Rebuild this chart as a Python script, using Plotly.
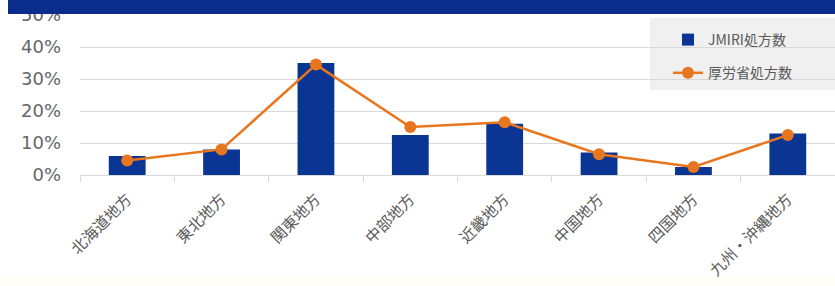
import plotly.graph_objects as go

categories = ["北海道地方", "東北地方", "関東地方", "中部地方", "近畿地方", "中国地方", "四国地方", "九州・沖縄地方"]
jmiri = [0.059, 0.080, 0.350, 0.125, 0.160, 0.070, 0.025, 0.130]
mhlw = [0.045, 0.080, 0.345, 0.150, 0.165, 0.065, 0.025, 0.125]
y_ticks = [0, 0.1, 0.2, 0.3, 0.4, 0.5]
y_tick_labels = ["0%", "10%", "20%", "30%", "40%", "50%"]

FONT = "Noto Sans CJK JP, Noto Sans, sans-serif"

W, H = 835, 286
L, R, T, B = 80, 0, 15, 111
PW, PH = W - L - R, H - T - B


def px(x):
    return (x - L) / PW


def py(y):
    return (H - B - y) / PH


fig = go.Figure()
fig.add_trace(go.Bar(x=categories, y=jmiri, name="JMIRI処方数", legendgroup="a",
                     marker=dict(color="#0a3592", line=dict(width=0))))
fig.add_trace(go.Scatter(x=categories, y=mhlw, name="厚労省処方数", mode="lines+markers",
                         legendgroup="b",
                         line=dict(color="#e8761e", width=2.5),
                         marker=dict(color="#e8761e", size=12)))

fig.update_layout(
    width=W, height=H,
    margin=dict(l=L, r=R, t=T, b=B),
    paper_bgcolor="white", plot_bgcolor="white",
    font=dict(family=FONT, color="#595959"),
    bargap=0.61,
    showlegend=True,
    legend=dict(x=px(668), y=py(24), xanchor="left", yanchor="top",
                bgcolor="rgba(0,0,0,0)", font=dict(size=14, color="#595959"),
                itemwidth=30, tracegroupgap=12, traceorder="grouped"),
    xaxis=dict(range=[-0.5, 7.5], tickangle=-45, automargin=False,
               tickfont=dict(size=15.5, color="#5a5a5a", family=FONT),
               showgrid=False, showline=True, linecolor="#d9d9d9", linewidth=1,
               ticks="outside", tickson="boundaries", ticklen=6, tickcolor="#d9d9d9",
               ticklabelstandoff=8),
    yaxis=dict(range=[0, 0.5], tickvals=y_ticks, ticktext=y_tick_labels, automargin=False,
               tickfont=dict(size=18, color="#666666", family="DejaVu Sans"), showgrid=True,
               gridcolor="#d9d9d9", gridwidth=1, zeroline=False, showline=False,
               ticks="", ticklabelstandoff=18),
    shapes=[
        dict(type="rect", xref="paper", yref="paper", x0=px(650), x1=px(835),
             y0=py(90), y1=py(18), fillcolor="#f0f0f0", line=dict(width=0), layer="below"),
        dict(type="rect", xref="paper", yref="paper", x0=px(0), x1=px(835),
             y0=py(286), y1=py(277), fillcolor="#fffef7", line=dict(width=0), layer="below"),
        dict(type="rect", xref="paper", yref="paper", x0=px(8), x1=px(835),
             y0=py(14), y1=py(0), fillcolor="#0a2d8c", line=dict(width=0), layer="above"),
    ],
)

fig.write_html("out.html", config={"displayModeBar": False},
               post_script="document.body.style.margin='0';")
